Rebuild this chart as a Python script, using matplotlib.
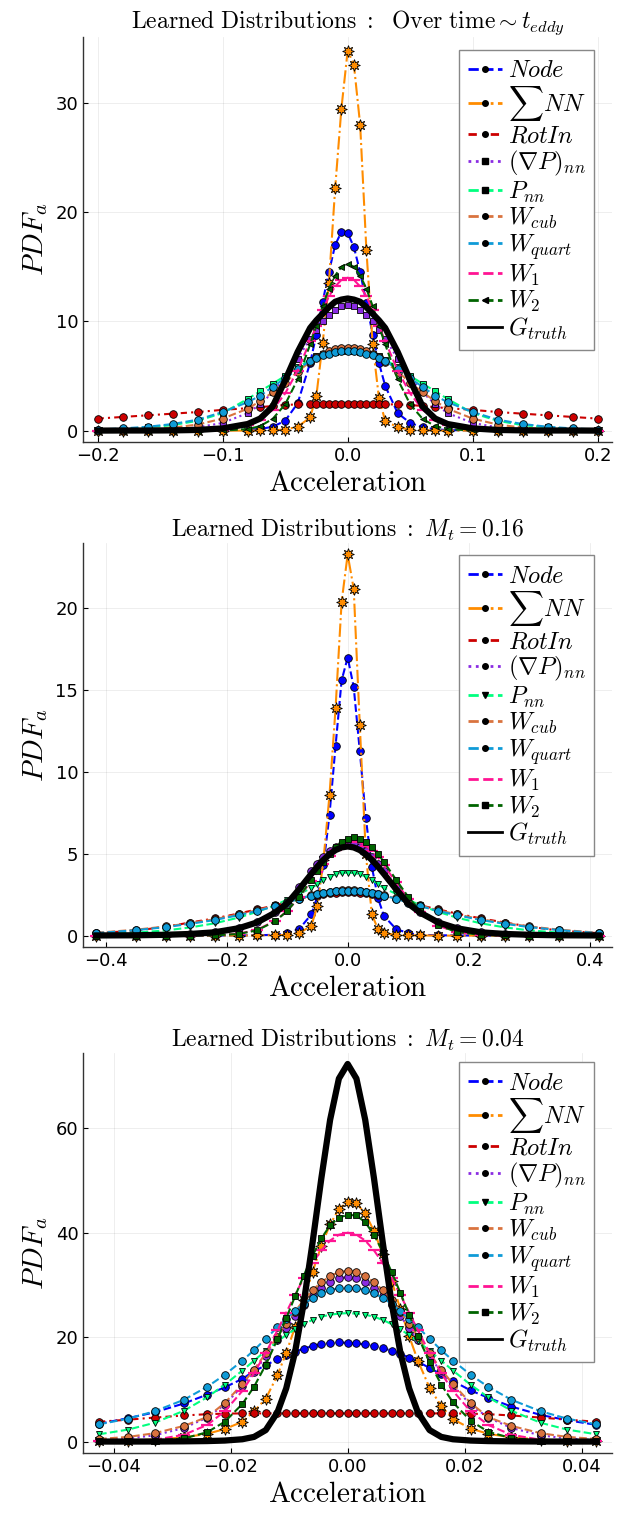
import numpy as np
import matplotlib
matplotlib.use('Agg')
import matplotlib.pyplot as plt
from matplotlib.lines import Line2D

plt.rcParams['mathtext.fontset'] = 'cm'
plt.rcParams['font.family'] = ['DejaVu Sans']

# ---------------- data ----------------
labels = [r'$Node$', r'$\sum NN$', r'$RotIn$', r'$(\nabla P)_{nn}$', r'$P_{nn}$',
          r'$W_{cub}$', r'$W_{quart}$', r'$W_1$', r'$W_2$', r'$G_{truth}$']
colors = ['#0000ff', '#ff8c00', '#cc0000', '#8a2be2', '#00ff7f',
          '#d9733f', '#0f9bd7', '#ff1493', '#006400', '#000000']
styles = ['--', '-.', (0, (3, 2, 1, 2)), ':', '--', '--', '--', '--', '--', '-']

# Panel 1: over time ~ t_eddy
x1 = [-0.2, -0.18, -0.16, -0.14, -0.12, -0.1, -0.08, -0.07, -0.06, -0.05, -0.04, -0.03, -0.025, -0.02,
      -0.015, -0.01, -0.005, 0.0, 0.005, 0.01, 0.015, 0.02, 0.025, 0.03, 0.04, 0.05, 0.06, 0.07, 0.08,
      0.1, 0.12, 0.14, 0.16, 0.18, 0.2]
node1 = [0, 0, 0, 0, 0.01, 0.02, 0.08, 0.15, 0.35, 0.9, 2.5, 6.2, 8.8, 11.8, 14.5, 17.0, 18.2, 18.1,
         16.8, 14.5, 11.7, 8.8, 6.2, 4.1, 1.6, 0.7, 0.3, 0.12, 0.05, 0.01, 0, 0, 0, 0, 0]
sumnn1 = [0, 0, 0, 0, 0, 0, 0, 0.01, 0.03, 0.1, 0.35, 1.2, 3.2, 8.0, 13.5, 22.2, 29.5, 34.8,
          33.5, 28.0, 16.5, 7.9, 3.0, 0.9, 0.3, 0.1, 0.03, 0.01, 0, 0, 0, 0, 0, 0, 0]
rotin1 = [1.1, 1.25, 1.4, 1.55, 1.7, 1.9, 2.05, 2.15, 2.25, 2.35, 2.4, 2.4, 2.4, 2.4, 2.4, 2.4, 2.4, 2.4,
          2.4, 2.4, 2.4, 2.4, 2.4, 2.4, 2.4, 2.35, 2.25, 2.15, 2.05, 1.9, 1.7, 1.55, 1.4, 1.25, 1.1]
gradp1 = [0.01, 0.02, 0.05, 0.12, 0.3, 0.7, 1.6, 2.4, 3.5, 4.9, 6.6, 8.4, 9.2, 10.0, 10.6, 11.0, 11.4, 11.5,
          11.4, 11.0, 10.6, 10.0, 9.2, 8.4, 6.6, 4.9, 3.5, 2.4, 1.6, 0.7, 0.3, 0.12, 0.05, 0.02, 0.01]
pnn1 = [0.08, 0.15, 0.3, 0.5, 0.9, 1.6, 2.9, 3.6, 4.3, 5.0, 5.8, 6.5, 6.8, 7.0, 7.1, 7.2, 7.25, 7.25,
        7.25, 7.2, 7.1, 7.0, 6.8, 6.5, 5.8, 5.0, 4.3, 3.6, 2.9, 1.6, 0.9, 0.5, 0.3, 0.15, 0.08]
wcub1 = [0.03, 0.06, 0.13, 0.27, 0.55, 1.1, 2.0, 2.7, 3.5, 4.4, 5.4, 6.3, 6.7, 7.0, 7.25, 7.45, 7.55, 7.6,
         7.55, 7.45, 7.25, 7.0, 6.7, 6.3, 5.4, 4.4, 3.5, 2.7, 2.0, 1.1, 0.55, 0.27, 0.13, 0.06, 0.03]
wquart1 = [0.1, 0.2, 0.35, 0.6, 1.0, 1.7, 2.6, 3.2, 4.0, 4.8, 5.6, 6.4, 6.65, 6.9, 7.05, 7.2, 7.28, 7.3,
           7.28, 7.2, 7.05, 6.9, 6.65, 6.4, 5.6, 4.8, 4.0, 3.2, 2.6, 1.7, 1.0, 0.6, 0.35, 0.2, 0.1]
w1_1 = [0, 0, 0, 0, 0.02, 0.1, 0.5, 1.0, 1.9, 3.4, 5.5, 8.2, 9.6, 11.0, 12.3, 13.2, 13.8, 14.0,
        13.8, 13.2, 12.3, 11.0, 9.6, 8.2, 5.5, 3.4, 1.9, 1.0, 0.5, 0.1, 0.02, 0, 0, 0, 0]
w2_1 = [0, 0, 0, 0, 0, 0.01, 0.13, 0.41, 1.07, 2.4, 4.7, 7.9, 9.6, 11.4, 13.0, 14.2, 15.0, 15.3,
        15.0, 14.2, 13.0, 11.4, 9.6, 7.9, 4.7, 2.4, 1.07, 0.41, 0.13, 0.01, 0, 0, 0, 0, 0]
g1 = [0, 0.01, 0.01, 0.02, 0.06, 0.2, 0.6, 1.1, 2.2, 4.6, 7.2, 9.4, 10.1, 10.7, 11.3, 11.8, 12.0, 12.1,
      12.0, 11.8, 11.3, 10.7, 10.1, 9.4, 7.2, 4.6, 2.2, 1.1, 0.6, 0.2, 0.06, 0.02, 0.01, 0.01, 0]

# Panel 2: M_t = 0.16
x2 = [-0.415, -0.35, -0.3, -0.26, -0.22, -0.18, -0.15, -0.12, -0.1, -0.08, -0.06, -0.05, -0.04, -0.03,
      -0.02, -0.01, 0.0, 0.01, 0.02, 0.03, 0.04, 0.05, 0.06, 0.08, 0.1, 0.12, 0.15, 0.18, 0.22, 0.26,
      0.3, 0.35, 0.415]
node2 = [0, 0, 0, 0, 0, 0.01, 0.02, 0.05, 0.15, 0.4, 1.3, 2.4, 4.3, 7.4, 11.6, 15.6, 17.0,
         15.2, 11.3, 7.2, 4.2, 2.3, 1.2, 0.4, 0.15, 0.05, 0.02, 0.01, 0, 0, 0, 0, 0]
sumnn2 = [0, 0, 0, 0, 0, 0, 0.01, 0.02, 0.05, 0.15, 0.6, 1.8, 4.6, 8.6, 13.9, 20.4, 23.3,
          21.2, 12.9, 5.0, 1.3, 0.4, 0.15, 0.05, 0.02, 0.01, 0, 0, 0, 0, 0, 0, 0]
rotin2 = [0.15, 0.3, 0.55, 0.8, 1.05, 1.35, 1.6, 1.85, 2.05, 2.25, 2.4, 2.48, 2.54, 2.58, 2.62, 2.64, 2.65,
          2.64, 2.62, 2.58, 2.54, 2.48, 2.4, 2.25, 2.05, 1.85, 1.6, 1.35, 1.05, 0.8, 0.55, 0.3, 0.15]
gradp2 = [0.01, 0.02, 0.05, 0.1, 0.21, 0.47, 0.83, 1.46, 2.04, 2.95, 3.92, 4.39, 4.82, 5.17, 5.44, 5.61, 5.67,
          5.61, 5.44, 5.17, 4.82, 4.39, 3.92, 2.95, 2.04, 1.46, 0.83, 0.47, 0.21, 0.1, 0.05, 0.02, 0.01]
pnn2 = [0.08, 0.18, 0.32, 0.5, 0.75, 1.1, 1.45, 1.85, 2.2, 2.55, 2.9, 3.15, 3.4, 3.6, 3.75, 3.82, 3.85,
        3.82, 3.75, 3.6, 3.4, 3.15, 2.9, 2.55, 2.2, 1.85, 1.45, 1.1, 0.75, 0.5, 0.32, 0.18, 0.08]
wcub2 = [0.17, 0.36, 0.56, 0.76, 1.0, 1.3, 1.55, 1.82, 2.05, 2.27, 2.46, 2.55, 2.63, 2.69, 2.73, 2.76, 2.77,
         2.76, 2.73, 2.69, 2.63, 2.55, 2.46, 2.27, 2.05, 1.82, 1.55, 1.3, 1.0, 0.76, 0.56, 0.36, 0.17]
wquart2 = [0.15, 0.33, 0.52, 0.72, 0.95, 1.25, 1.5, 1.8, 2.02, 2.25, 2.45, 2.54, 2.62, 2.68, 2.72, 2.74, 2.75,
           2.74, 2.72, 2.68, 2.62, 2.54, 2.45, 2.25, 2.02, 1.8, 1.5, 1.25, 0.95, 0.72, 0.52, 0.33, 0.15]
w1_2 = [0, 0, 0, 0, 0.02, 0.12, 0.35, 0.9, 1.5, 2.35, 3.35, 3.88, 4.38, 4.85, 5.25, 5.55, 5.73,
        5.78, 5.7, 5.5, 5.18, 4.78, 4.3, 3.25, 2.25, 1.42, 0.6, 0.21, 0.04, 0.01, 0, 0, 0]
w2_2 = [0, 0, 0, 0, 0.014, 0.1, 0.32, 0.87, 1.5, 2.37, 3.42, 3.97, 4.5, 4.99, 5.41, 5.73, 5.93,
        6.0, 5.93, 5.73, 5.41, 4.99, 4.5, 3.42, 2.37, 1.5, 0.63, 0.22, 0.04, 0.01, 0, 0, 0]
g2 = [0.01, 0.02, 0.05, 0.1, 0.2, 0.45, 0.8, 1.4, 1.96, 2.84, 3.77, 4.22, 4.63, 4.97, 5.23, 5.39, 5.45,
      5.39, 5.23, 4.97, 4.63, 4.22, 3.77, 2.84, 1.96, 1.4, 0.8, 0.45, 0.2, 0.1, 0.05, 0.02, 0.01]

# Panel 3: M_t = 0.04
x3 = [-0.0425, -0.0375, -0.033, -0.028, -0.024, -0.021, -0.018, -0.016, -0.014, -0.012, -0.0105, -0.009,
      -0.0075, -0.006, -0.0045, -0.003, -0.0015, 0.0, 0.0015, 0.003, 0.0045, 0.006, 0.0075, 0.009, 0.0105,
      0.012, 0.014, 0.016, 0.018, 0.021, 0.024, 0.028, 0.033, 0.0375, 0.0425]
node3 = [3.4, 4.5, 5.6, 7.3, 9.0, 10.4, 12.0, 13.5, 14.6, 15.8, 16.6, 17.2, 17.8, 18.3, 18.7, 18.9, 19.0, 18.9,
         18.8, 18.6, 18.3, 17.9, 17.4, 16.8, 16.1, 15.3, 14.1, 12.9, 11.6, 9.8, 8.4, 6.7, 5.1, 4.1, 3.2]
sumnn3 = [0.1, 0.2, 0.4, 0.8, 1.5, 2.4, 3.8, 5.8, 8.2, 12.7, 17.0, 21.9, 27.2, 32.5, 37.5, 41.6, 44.5, 45.95,
          45.6, 43.7, 40.3, 35.9, 30.8, 25.4, 20.2, 15.5, 10.3, 6.8, 4.3, 2.5, 1.5, 0.8, 0.4, 0.2, 0.1]
rotin3 = [3.8, 4.2, 4.6, 5.0, 5.25, 5.35, 5.4, 5.4, 5.4, 5.4, 5.4, 5.4, 5.4, 5.4, 5.4, 5.4, 5.4, 5.4,
          5.4, 5.4, 5.4, 5.4, 5.4, 5.4, 5.4, 5.4, 5.4, 5.4, 5.4, 5.35, 5.25, 5.0, 4.6, 4.2, 3.8]
gradp3 = [0.3, 0.6, 1.2, 2.6, 4.6, 7.1, 10.6, 13.3, 16.3, 19.4, 21.8, 24.0, 26.1, 27.9, 29.4, 30.5, 31.3, 31.5,
          31.3, 30.5, 29.4, 27.9, 26.1, 24.0, 21.8, 19.4, 16.3, 13.3, 10.6, 7.1, 4.6, 2.6, 1.2, 0.6, 0.3]
pnn3 = [1.4, 2.3, 3.6, 5.9, 8.5, 10.9, 13.6, 15.5, 17.4, 19.2, 20.4, 21.5, 22.5, 23.3, 23.9, 24.3, 24.5, 24.6,
        24.5, 24.3, 23.9, 23.3, 22.5, 21.5, 20.4, 19.2, 17.4, 15.5, 13.6, 10.9, 8.5, 5.9, 3.6, 2.3, 1.4]
wcub3 = [0.5, 0.9, 1.6, 3.0, 4.7, 7.4, 11.0, 13.8, 16.9, 20.1, 22.6, 24.9, 27.1, 29.0, 30.5, 31.7, 32.45, 32.7,
         32.45, 31.7, 30.5, 29.0, 27.1, 24.9, 22.6, 20.1, 16.9, 13.8, 11.0, 7.4, 4.7, 3.0, 1.6, 0.9, 0.5]
wquart3 = [3.3, 4.4, 5.8, 8.0, 10.5, 12.8, 15.5, 17.5, 19.7, 21.9, 23.5, 25.0, 26.4, 27.5, 28.4, 29.0, 29.4, 29.5,
           29.4, 29.0, 28.4, 27.5, 26.4, 25.0, 23.5, 21.9, 19.7, 17.5, 15.5, 12.8, 10.5, 8.0, 5.8, 4.4, 3.3]
w1_3 = [0.02, 0.1, 0.35, 1.3, 3.2, 5.8, 9.7, 13.1, 17.0, 21.3, 24.7, 28.1, 31.3, 34.2, 36.6, 38.5, 39.6, 40.0,
        39.6, 38.5, 36.6, 34.2, 31.3, 28.1, 24.7, 21.3, 17.0, 13.1, 9.7, 5.8, 3.2, 1.3, 0.35, 0.1, 0.02]
w2_3 = [0.05, 0.1, 0.2, 0.6, 1.8, 3.8, 7.2, 10.5, 14.7, 19.6, 23.6, 27.8, 31.8, 35.6, 38.9, 41.4, 42.9, 43.4,
        43.3, 42.0, 39.6, 36.3, 32.5, 28.5, 24.3, 20.2, 15.2, 10.9, 7.5, 4.0, 1.9, 0.65, 0.2, 0.1, 0.05]
g3 = [0.01, 0.01, 0.02, 0.05, 0.1, 0.2, 0.45, 0.9, 2.2, 5.6, 10.2, 17.1, 26.6, 38.1, 50.4, 61.6, 69.5, 72.3,
      69.5, 61.6, 50.4, 38.1, 26.6, 17.1, 10.2, 5.6, 2.2, 0.9, 0.45, 0.2, 0.1, 0.05, 0.02, 0.01, 0.01]

STAR8 = (8, 1, 0)
panels = [
    dict(x=x1, ys=[node1, sumnn1, rotin1, gradp1, pnn1, wcub1, wquart1, w1_1, w2_1, g1],
         markers=['o', STAR8, 'o', 's', 's', 'o', 'o', '_', '<', None],
         title=r'$\mathrm{Learned\ Distributions\ :\ \ Over\ time} \sim t_{eddy}$',
         xlim=(-0.2115, 0.2115), ylim=(-1.05, 36.05),
         xticks=[-0.2, -0.1, 0.0, 0.1, 0.2], yticks=[0, 10, 20, 30],
         pos=[0.131, 0.7084, 0.833, 0.2672], leg_top=0.968),
    dict(x=x2, ys=[node2, sumnn2, rotin2, gradp2, pnn2, wcub2, wquart2, w1_2, w2_2, g2],
         markers=['o', STAR8, 'o', 'o', 'v', 'o', 'o', '_', 's', None],
         title=r'$\mathrm{Learned\ Distributions}\ :\ M_t = 0.16$',
         xlim=(-0.437, 0.437), ylim=(-0.7, 24.0),
         xticks=[-0.4, -0.2, 0.0, 0.2, 0.4], yticks=[0, 5, 10, 15, 20],
         pos=[0.131, 0.3753, 0.833, 0.2665], leg_top=0.970),
    dict(x=x3, ys=[node3, sumnn3, rotin3, gradp3, pnn3, wcub3, wquart3, w1_3, w2_3, g3],
         markers=['o', STAR8, 'o', 'o', 'v', 'o', 'o', '_', 's', None],
         title=r'$\mathrm{Learned\ Distributions}\ :\ M_t = 0.04$',
         xlim=(-0.0452, 0.0452), ylim=(-2.17, 74.4),
         xticks=[-0.04, -0.02, 0.0, 0.02, 0.04], yticks=[0, 20, 40, 60],
         pos=[0.131, 0.0416, 0.833, 0.2638], leg_top=0.9775),
]

fig = plt.figure(figsize=(6.35, 15.16), dpi=100)

for p in panels:
    ax = fig.add_axes(p['pos'])
    x = p['x']
    handles = []
    for i, y in enumerate(p['ys']):
        m = p['markers'][i]
        c = colors[i]
        if m is None:
            ax.plot(x, y, color=c, ls=styles[i], lw=4.5, zorder=3 + i * 0.01)
            h = Line2D([], [], color=c, ls='-', lw=2)
        elif m == '_':
            ax.plot(x, y, color=c, ls=styles[i], lw=1.5, marker='_', ms=8, mec=c, mew=1.6,
                    zorder=3 + i * 0.01)
            h = Line2D([], [], color=c, ls=styles[i], lw=2)
        else:
            ms = 8.5 if m == STAR8 else (5.0 if m in ('s', 'v') else (4.0 if m == '<' else 5.5))
            ax.plot(x, y, color=c, ls=styles[i], lw=1.5, marker=m, ms=ms, mfc=c, mec='black',
                    mew=0.6, zorder=3 + i * 0.01)
            lm = 's' if m == 's' else ('v' if m == 'v' else ('<' if m == '<' else 'o'))
            h = Line2D([], [], color=c, ls=styles[i], lw=2, marker=lm, ms=4, mfc='black',
                       mec='black')
        handles.append(h)
    ax.set_xlim(*p['xlim'])
    ax.set_ylim(*p['ylim'])
    ax.set_xticks(p['xticks'])
    ax.set_yticks(p['yticks'])
    ax.grid(True, color='black', alpha=0.08, lw=0.6)
    ax.set_axisbelow(True)
    for s in ('top', 'right'):
        ax.spines[s].set_visible(False)
    for s in ('left', 'bottom'):
        ax.spines[s].set_linewidth(1.0)
        ax.spines[s].set_color('#333333')
    ax.tick_params(direction='in', length=3.5, width=0.8, labelsize=13, colors='black')
    ax.set_title(p['title'], fontsize=17, pad=3)
    ax.set_xlabel(r'$\mathrm{Acceleration}$', fontsize=21, labelpad=3)
    ax.set_ylabel(r'$PDF_a$', fontsize=21, labelpad=4)
    leg = ax.legend(handles, labels, loc='upper right', bbox_to_anchor=(0.966, p['leg_top']),
                    borderaxespad=0, fontsize=17.5, frameon=True, fancybox=False,
                    edgecolor='#888888', framealpha=1, handlelength=1.4, handletextpad=0.25,
                    labelspacing=0.05, borderpad=0.35)
    leg.get_frame().set_linewidth(1.0)
    leg.set_zorder(10)

fig.savefig('out.png', dpi=100)
